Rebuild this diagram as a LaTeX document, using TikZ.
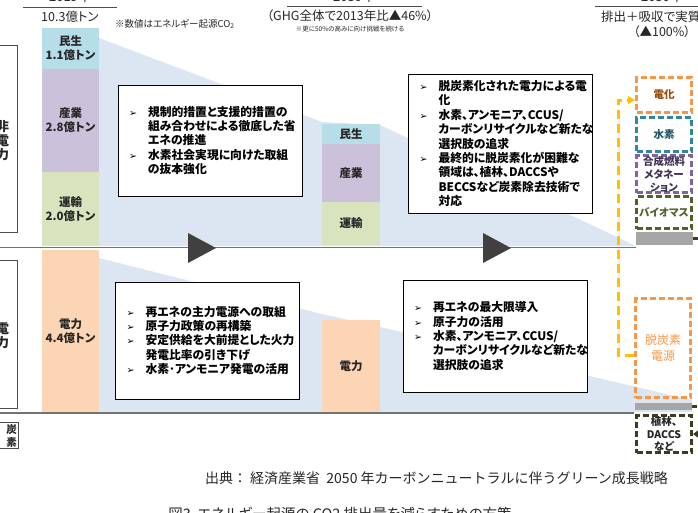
\documentclass[tikz,border=0pt]{standalone}
\usepackage{fontspec}
\setmainfont{Noto Sans CJK JP}[RawFeature=+palt]
\newfontfamily\jpfix{Noto Sans CJK JP}
\newfontfamily\symfont{DejaVu Sans}
\usetikzlibrary{arrows.meta}
\definecolor{minsei}{RGB}{183,222,232}
\definecolor{sangyo}{RGB}{204,193,218}
\definecolor{unyu}{RGB}{215,228,189}
\definecolor{denryoku}{RGB}{252,213,181}
\definecolor{haikei}{RGB}{220,230,242}
\definecolor{haiiro}{RGB}{166,166,166}
\definecolor{cdenka}{RGB}{247,150,70}
\definecolor{cdenkat}{RGB}{152,72,6}
\definecolor{csuiso}{RGB}{49,133,156}
\definecolor{csuisot}{RGB}{33,89,104}
\definecolor{cgosei}{RGB}{128,100,162}
\definecolor{cgoseit}{RGB}{64,49,82}
\definecolor{cbio}{RGB}{79,98,40}
\definecolor{cdac}{RGB}{60,60,35}
\definecolor{cyaji}{RGB}{255,192,0}
\definecolor{csankaku}{RGB}{64,64,64}
\newcommand{\bul}{\makebox[19pt][l]{\symfont\fontsize{9.5}{9.5}\selectfont ➢}}
\newcommand{\ind}{\hspace*{19pt}}

\begin{document}
\begin{tikzpicture}[x=1pt,y=-1pt,
    bar/.style={minimum width=57pt, inner sep=0pt, align=center,
      font=\bfseries\fontsize{11.5}{14}\selectfont, text=black!85},
    memo/.style={draw=black, line width=0.9pt, fill=white, inner xsep=11pt,
      inner ysep=0pt, text width=162pt, align=left,
      font=\bfseries\fontsize{11.8}{14.4}\selectfont},
    hako/.style={dash pattern=on 6pt off 3pt, line width=3pt, minimum width=55pt,
      inner sep=0pt, align=center, font=\bfseries\fontsize{10.5}{13}\selectfont},
    gbar/.style={fill=haiiro, minimum width=57pt, inner sep=0pt},
    kugiri/.style={draw=black!55, line width=1.3pt},
    waku/.style={draw=black!70, line width=0.8pt},
    midasi/.style={text=black!85, inner sep=0pt},
    yajirushi/.style={fill=csankaku},
    ydash/.style={draw=cyaji, line width=3pt, dash pattern=on 9pt off 5pt,
      -{Triangle[length=7pt,width=8pt]}},
    kdash/.style={draw=cdac, line width=2.5pt, dash pattern=on 5pt off 3pt}]
  \useasboundingbox (0,0) rectangle (698,512);

  % background wedges
  \fill[haikei] (99,38) -- (322,122) -- (380,125) -- (636,246) -- (99,246) -- cycle;
  \fill[haikei] (99,258) -- (322,314) -- (380,327) -- (692,400) -- (692,412) -- (99,412) -- cycle;

  % headers
  \node[midasi, font=\fontsize{13}{13}\selectfont] (y19) at (70,-3) {2019年};
  \draw[waku] (23,7) -- (117,7);
  \node[midasi, font=\fontsize{12.5}{13}\selectfont] (t19) at (70,17) {10.3億トン};
  \node[midasi, anchor=west, font=\fontsize{9.5}{10}\selectfont] (chu19) at (115,24) {※数値はエネルギー起源CO\textsubscript{2}};
  \node[midasi, font=\fontsize{13}{13}\selectfont] (y30) at (354,-3) {2030年};
  \draw[waku] (287,6) -- (422,6);
  \node[midasi, font=\fontsize{12.5}{13}\selectfont] (t30) at (350,16) {（GHG全体で2013年比▲46\%）};
  \node[midasi, font=\fontsize{6.5}{7}\selectfont] (chu30) at (350,29) {※更に50\%の高みに向け挑戦を続ける};
  \node[midasi, font=\fontsize{13}{13}\selectfont] (y50) at (662,-3) {2050年};
  \draw[waku] (595,6) -- (700,6);
  \node[midasi, anchor=west, font=\fontsize{12.5}{13}\selectfont] (t50) at (601,17) {排出＋吸収で実質0};
  \node[midasi, font=\fontsize{12.5}{13}\selectfont] (t50b) at (662,32) {（▲100\%）};

  % left labels
  \draw[waku] (-1,45) -- (17,45) -- (17,232) -- (-1,232);
  \draw[waku] (-1,260) -- (17,260) -- (17,408) -- (-1,408);
  \draw[waku] (-1,422) -- (18,422) -- (18,448) -- (-1,448);
  \node[midasi, align=center, font=\bfseries\fontsize{13}{14}\selectfont] (hiden) at (2.5,141) {非\\電\\力};
  \node[midasi, align=center, font=\bfseries\fontsize{13}{14}\selectfont] (den) at (2.5,335.5) {電\\力};
  \node[midasi, align=center, font=\bfseries\fontsize{10.5}{12.5}\selectfont] (tanso) at (11.5,436) {炭\\素};

  % 2019 bars
  \node[bar, fill=minsei, minimum height=41pt] (m19) at (70.5,48.5) {民生\\1.1億トン};
  \node[bar, fill=sangyo, minimum height=103pt] (s19) at (70.5,120.5) {産業\\2.8億トン};
  \node[bar, fill=unyu, minimum height=74pt] (u19) at (70.5,209) {運輸\\2.0億トン};
  \node[bar, fill=denryoku, minimum height=162pt] (d19) at (70.5,331) {電力\\4.4億トン};

  % 2030 bars
  \node[bar, fill=minsei, minimum height=20pt, minimum width=58pt] (m30) at (351,134) {民生};
  \node[bar, fill=sangyo, minimum height=58pt, minimum width=58pt] (s30) at (351,173) {産業};
  \node[bar, fill=unyu, minimum height=43pt, minimum width=58pt] (u30) at (351,223.5) {運輸};
  \node[bar, fill=denryoku, minimum height=92pt, minimum width=58pt] (d30) at (351,366) {電力};

  % measures
  \node[memo, minimum height=111pt] (memoA) at (210,140.5)
    {\bul 規制的措置と支援的措置の\\ \ind 組み合わせによる徹底した省\\ \ind エネの推進\\
     \bul 水素社会実現に向けた取組\\ \ind の抜本強化};
  \node[memo, minimum height=139pt] (memoB) at (500.5,143.5)
    {\bul 脱炭素化された電力による電\\ \ind 化\\
     \bul 水素、アンモニア、CCUS/\\ \ind カーボンリサイクルなど新たな\\ \ind 選択肢の追求\\
     \bul 最終的に脱炭素化が困難な\\ \ind 領域は、植林、DACCSや\\ \ind BECCSなど炭素除去技術で\\ \ind 対応};
  \node[memo, minimum height=117pt] (memoC) at (207.5,340.5)
    {\bul 再エネの主力電源への取組\\ \bul 原子力政策の再構築\\
     \bul 安定供給を大前提とした火力\\ \ind 発電比率の引き下げ\\
     \bul 水素･アンモニア発電の活用};
  \node[memo, minimum height=112pt] (memoD) at (495,336)
    {\bul 再エネの最大限導入\\ \bul 原子力の活用\\
     \bul 水素、アンモニア、CCUS/\\ \ind カーボンリサイクルなど新たな\\ \ind 選択肢の追求};

  % dividers and arrows
  \draw[kugiri] (0,247.5) -- (636,247.5);
  \draw[kugiri] (0,413) -- (634,413);
  \foreach \xa in {188,483}
    \fill[yajirushi] (\xa,233) -- (\xa+28,248) -- (\xa,263) -- cycle;

  % 2050
  \node[hako, draw=cdenka, text=cdenkat, minimum height=35pt] (denka) at (664,95) {電化};
  \node[hako, draw=csuiso, text=csuisot, minimum height=34pt] (suiso) at (664,134.5) {水素};
  \node[hako, draw=cgosei, text=cgoseit, minimum height=37pt] (gosei) at (664,174) {合成燃料\\メタネー\\ション};
  \node[hako, draw=cbio, text=cbio, minimum height=32pt] (bio) at (664,212.5) {バイオマス};
  \node[gbar, minimum height=13pt] (gbar1) at (664.5,238.5) {};
  \node[hako, draw=cdenka, text=cdenka, minimum height=99pt,
    font=\fontsize{12}{16}\selectfont] (dtsn) at (663,348) {脱炭素\\電源};
  \node[gbar, minimum height=7pt] (gbar2) at (663.5,406.5) {};
  \node[hako, draw=cdac, text=black!85, minimum height=37pt,
    font=\bfseries\fontsize{10.5}{12.5}\selectfont] (daccs) at (664,434) {植林、\\DACCS\\など};
  \coordinate (r1) at (706,238.5);
  \coordinate (r2) at (706,406.5);
  \coordinate (r3) at (708,434);
  \draw[kdash] (gbar1.east) -- (r1);
  \draw[kdash] (gbar2.east) -- (r2);
  \draw[kdash, {Triangle[length=5pt,width=7pt]}-] (daccs.east) -- (r3);
  \draw[ydash] ([yshift=-7pt]dtsn.west) -- ++(-16,0) |- ([yshift=-5pt]denka.west);

  % source and caption
  \node[midasi, font=\jpfix\fontsize{14}{14}\selectfont] (src) at (436.5,478)
    {出典：\ 経済産業省\ \ 2050 年カーボンニュートラルに伴うグリーン成長戦略};
  \node[midasi, font=\fontsize{14.5}{15}\selectfont] (zu) at (340,514)
    {図3\ \ エネルギー起源の CO2 排出量を減らすための方策};
\end{tikzpicture}
\end{document}
